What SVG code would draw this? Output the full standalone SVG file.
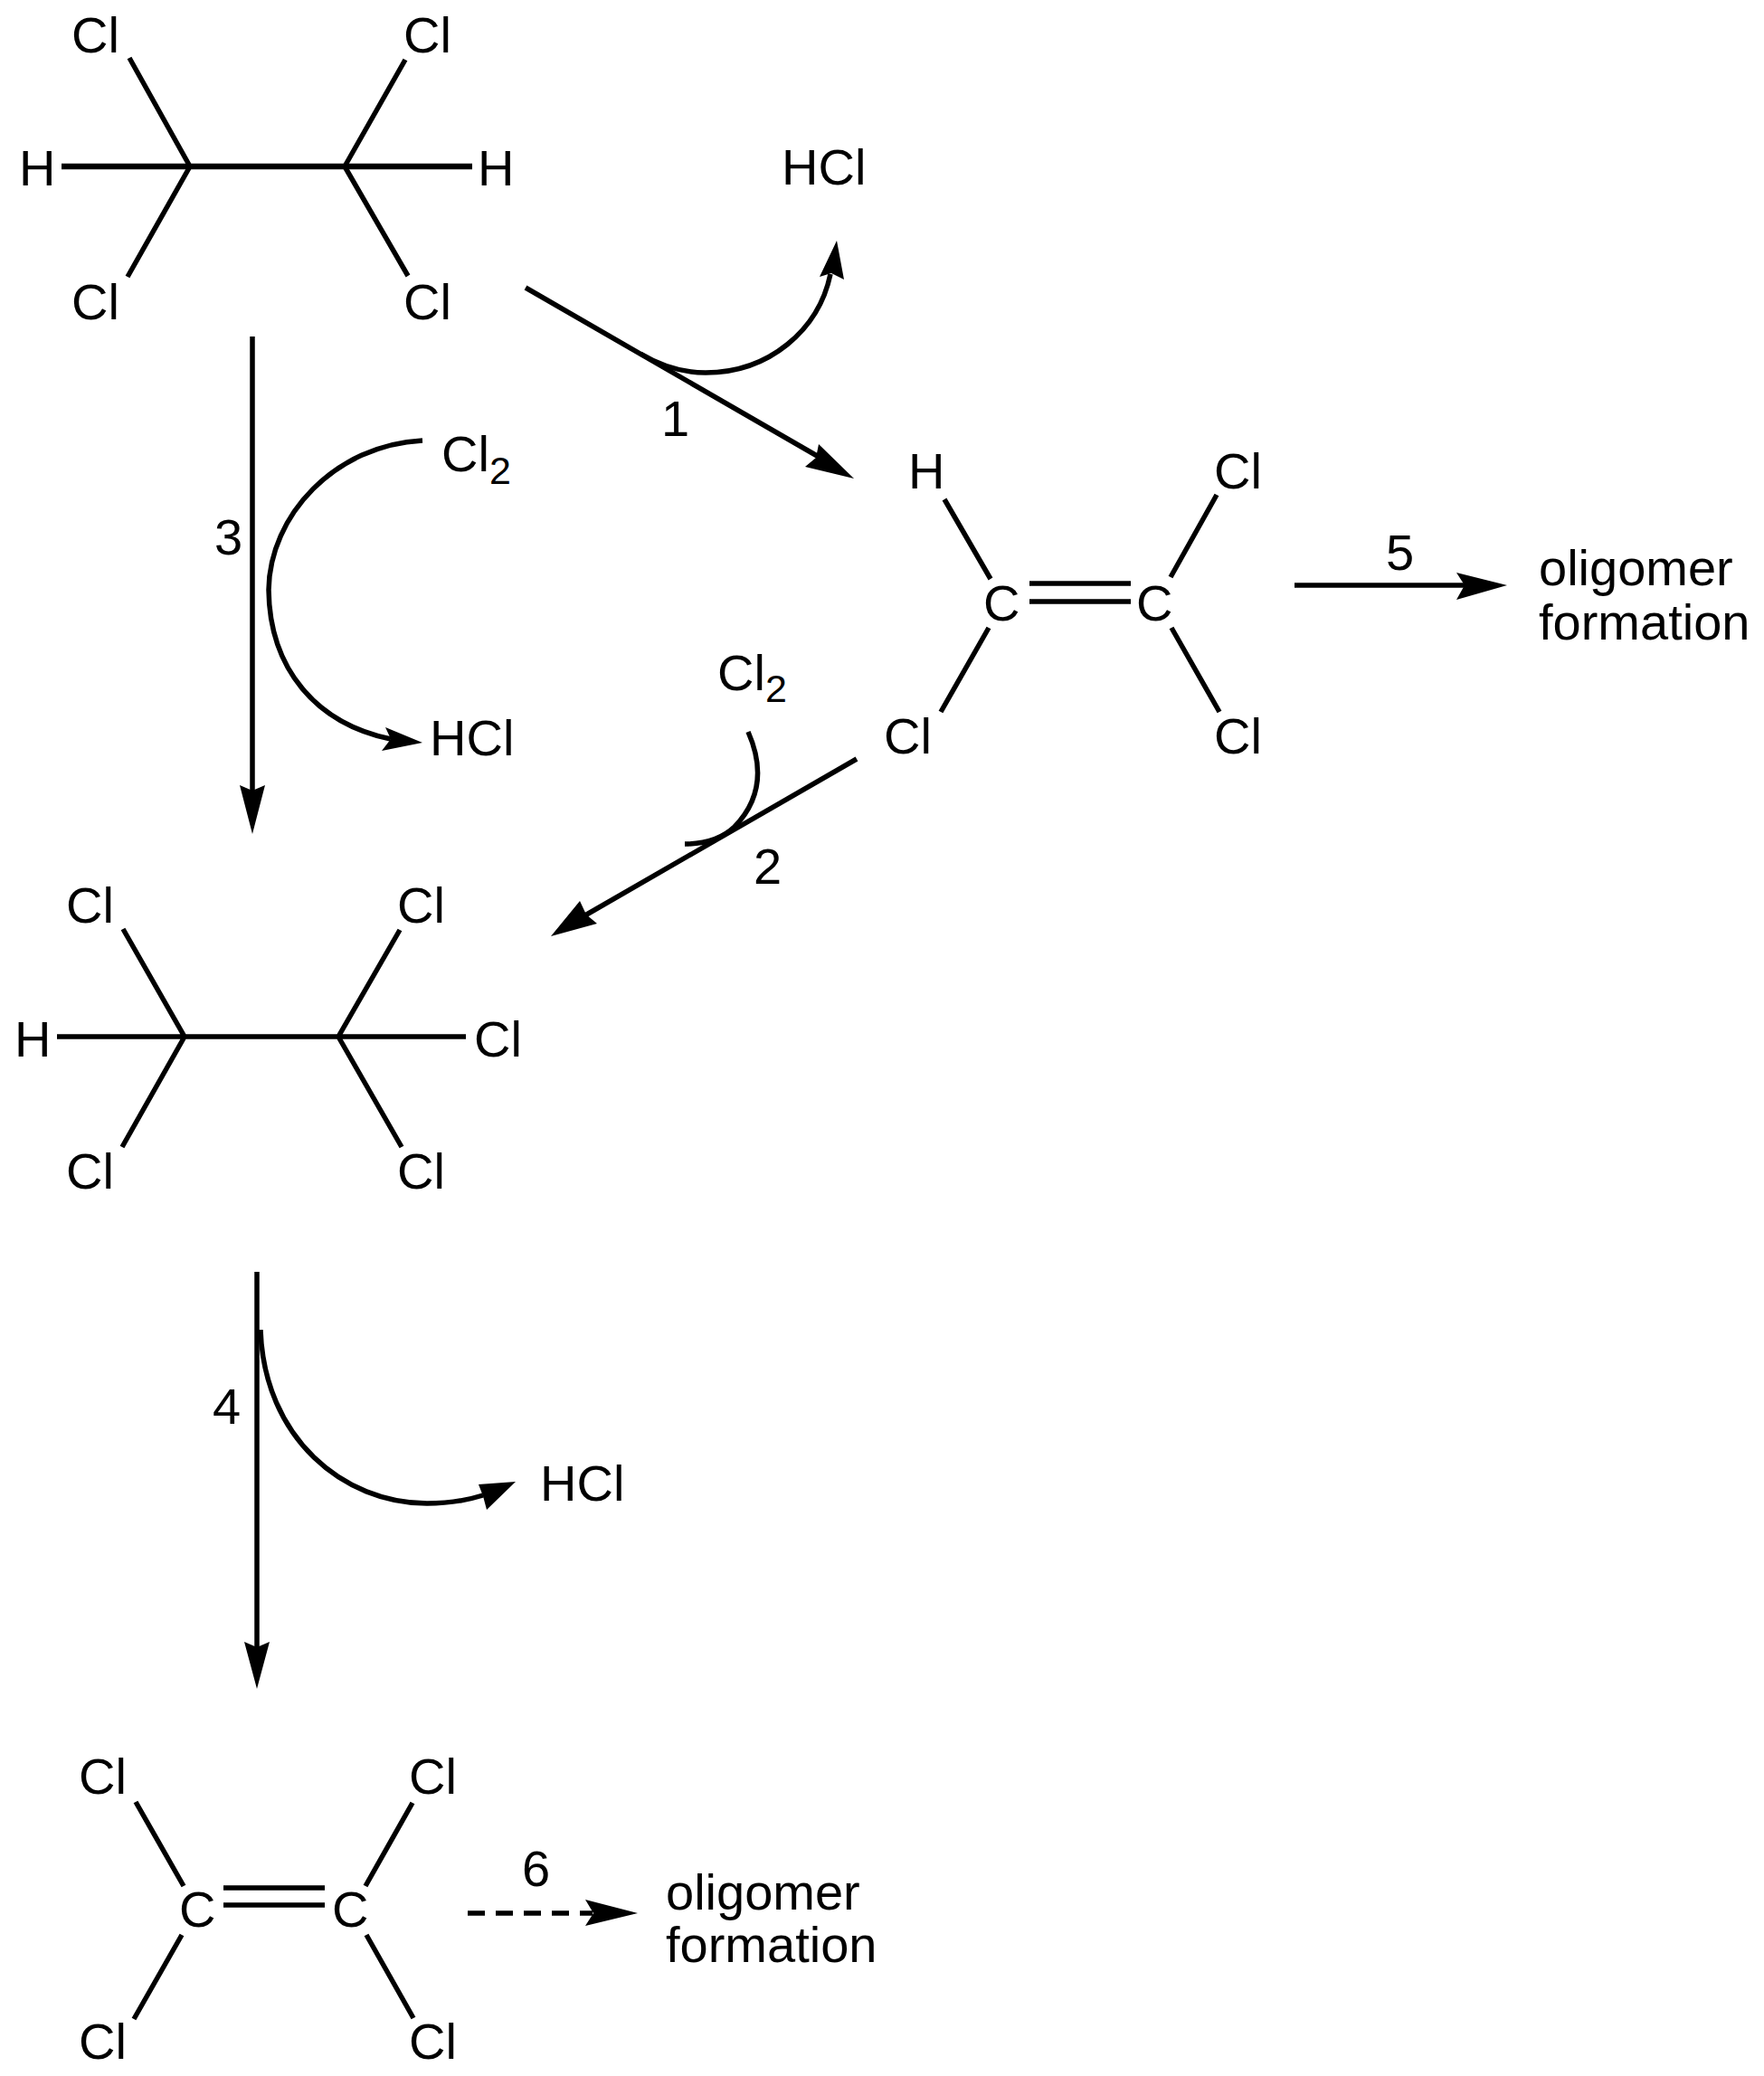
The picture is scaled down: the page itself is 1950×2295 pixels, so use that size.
<svg xmlns="http://www.w3.org/2000/svg" width="1950" height="2295" viewBox="0 0 1950 2295">
<style>
text{font-family:"Liberation Sans",Arial,sans-serif;font-size:56px;fill:#000}
.sub{font-size:43px}
.b{stroke:#000;stroke-width:5.5;fill:none}
.a{stroke:#000;stroke-width:5.5;fill:none}
.t{stroke:#000;stroke-width:6.5;fill:none}
.h{fill:#000;stroke:none}
</style>
<rect width="1950" height="2295" fill="#fff"/>
<g id="mol-tetrachloroethane">
<path class="b" d="M143,64L210,184M381,184L448,66M141,306L210,184M381,184L451,305"/>
<path class="t" d="M68,184H522"/>
<text x="79" y="58">Cl</text><text x="446" y="58">Cl</text>
<text x="79" y="353">Cl</text><text x="446" y="353">Cl</text>
<text x="21" y="205">H</text><text x="528" y="205">H</text>
</g>
<g id="mol-trichloroethylene">
<path class="b" d="M1044,552L1095,640M1345,547L1294,638M1093,694L1040,787M1295,694L1348,787M1138,645H1250M1138,665H1250"/>
<text x="1004" y="540">H</text><text x="1342" y="540">Cl</text>
<text x="1087" y="686">C</text><text x="1256" y="686">C</text>
<text x="977" y="833">Cl</text><text x="1342" y="833">Cl</text>
</g>
<g id="mol-pentachloroethane">
<path class="b" d="M136,1027L204,1146L374,1146L442,1028M135,1268L204,1146M374,1146L444,1268M63,1146H515"/>
<text x="73" y="1020">Cl</text><text x="439" y="1020">Cl</text>
<text x="73" y="1314">Cl</text><text x="439" y="1314">Cl</text>
<text x="16" y="1168">H</text><text x="524" y="1168">Cl</text>
</g>
<g id="mol-tetrachloroethylene">
<path class="b" d="M150,1992L203,2085M456,1993L404,2085M201,2139L148,2232M405,2139L457,2231M247,2087H359M247,2106H359"/>
<text x="87" y="1983">Cl</text><text x="452" y="1983">Cl</text>
<text x="198" y="2130">C</text><text x="367" y="2130">C</text>
<text x="87" y="2276">Cl</text><text x="452" y="2276">Cl</text>
</g>
<g id="product-hcl-1"><text x="864" y="204">HCl</text></g>
<g id="product-hcl-3"><text x="475" y="835">HCl</text></g>
<g id="product-hcl-4"><text x="597" y="1659">HCl</text></g>
<g id="reagent-cl2-3"><text x="488" y="521">Cl<tspan class="sub" dy="14">2</tspan></text></g>
<g id="reagent-cl2-2"><text x="793" y="763">Cl<tspan class="sub" dy="13">2</tspan></text></g>
<g id="product-oligomer-5"><text x="1701" y="647">oligomer</text><text x="1701" y="707">formation</text></g>
<g id="product-oligomer-6"><text x="736" y="2111">oligomer</text><text x="736" y="2169">formation</text></g>
<g id="step-labels">
<text x="731" y="482">1</text><text x="833" y="977">2</text><text x="237" y="613">3</text>
<text x="235" y="1574">4</text><text x="1532" y="630">5</text><text x="577" y="2085">6</text>
</g>
<g id="connectors">
<path class="a" d="M581,318L905,505"/><polygon class="h" points="944,529 890,516 902,506 905,491"/>
<path class="a" d="M708,391C730,404 752,412 780,412C850,412 905,365 918,303"/><polygon class="h" points="925,266 906,306 919,302 933,309"/>
<path class="a" d="M947,839L645,1013"/><polygon class="h" points="609,1035 641,996 648,1011 660,1021"/>
<path class="a" d="M827,809C845,850 840,885 812,914C795,930 775,933 757,933"/>
<path class="a" d="M279,372V875"/><polygon class="h" points="279,922 265,868 279,874 293,868"/>
<path class="a" d="M467,487C370,492 298,570 297,652C298,740 350,800 432,817"/><polygon class="h" points="467,821 426,804 432,817 422,830"/>
<path class="a" d="M284,1406V1822"/><polygon class="h" points="284,1867 270,1815 284,1821 298,1815"/>
<path class="a" d="M288,1470C292,1590 380,1662 472,1662C495,1662 515,1659 534,1653"/><polygon class="h" points="570,1638 529,1641 534,1654 538,1669"/>
<path class="a" d="M1431,647H1620"/><polygon class="h" points="1666,647 1610,633 1619,647 1610,663"/>
<path class="a" d="M517,2115H655" stroke-dasharray="19 12"/><polygon class="h" points="705,2115 647,2100 656,2115 647,2129"/>
</g>
</svg>
